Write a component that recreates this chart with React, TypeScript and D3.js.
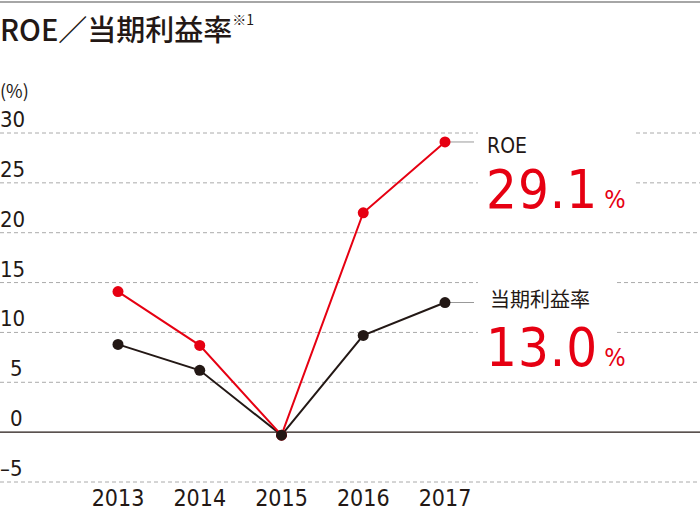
import React from 'react';
import * as d3 from 'd3';

const years = ['2013', '2014', '2015', '2016', '2017'];
const roe = [14.1, 8.7, -0.3, 22.0, 29.1];
const margin = [8.8, 6.2, -0.3, 9.7, 13.0];
const yTicks = [-5, 0, 5, 10, 15, 20, 25, 30];

const width = 700;
const height = 516;
const red = '#e60012';
const dark = '#231815';
const numFont = '"Liberation Sans Narrow", "DejaVu Sans Condensed", Roboto, sans-serif';
const jpFont = '"Noto Sans CJK JP", sans-serif';

const x = d3.scalePoint<string>().domain(years).range([118, 445]);
const y = d3.scaleLinear().domain([-5, 30]).range([482, 133]);

const lineGen = d3
  .line<number>()
  .x((d, i) => x(years[i]) as number)
  .y(d => y(d));

// gaps in grid lines where the callouts sit
const gapFor = (t: number): [number, number] | null => {
  if (t === 30 || t === 25) return [478, 636];
  if (t === 15 || t === 10) return [478, 617];
  return null;
};

const App = () => {
  const last = years.length - 1;
  return (
    <svg width={width} height={height} style={{ position: 'absolute', left: 0, top: 0 }}>
      <rect width={width} height={height} fill="#fff" />
      <line x1={0} x2={width} y1={2} y2={2} stroke="#888" strokeWidth={1.5} />
      <text x={0} y={41} fontFamily={jpFont} fontWeight={500} fontSize={29} fill={dark}>
        ROE／当期利益率
        <tspan fontSize={14} fontWeight={400} dy={-16}>※1</tspan>
      </text>

      <text x={0} y={98} fontFamily={jpFont} fontSize={18} fill={dark}>(%)</text>

      {yTicks.map(t => {
        const gap = gapFor(t);
        const yy = y(t);
        return (
          <g key={t}>
            {t === 0 ? (
              <line x1={0} x2={width} y1={yy} y2={yy} stroke={dark} strokeWidth={1.2} />
            ) : gap ? (
              <>
                <line x1={0} x2={gap[0]} y1={yy} y2={yy} stroke="#aaa" strokeDasharray="4,3" />
                <line x1={gap[1]} x2={width} y1={yy} y2={yy} stroke="#aaa" strokeDasharray="4,3" />
              </>
            ) : (
              <line x1={0} x2={width} y1={yy} y2={yy} stroke="#aaa" strokeDasharray="4,3" />
            )}
            <text x={t < 10 && t >= 0 ? 10 : 0} y={yy - 6} fontFamily={numFont} fontSize={22} fill={dark}>
              {t < 0 ? `–${Math.abs(t)}` : t}
            </text>
          </g>
        );
      })}

      {years.map(yr => (
        <text key={yr} x={x(yr)} y={506} textAnchor="middle" fontFamily={numFont} fontSize={23} fill={dark}>
          {yr}
        </text>
      ))}

      <line x1={x(years[last])} x2={474} y1={y(roe[last])} y2={y(roe[last])} stroke="#999" />
      <line x1={x(years[last])} x2={474} y1={y(margin[last])} y2={y(margin[last])} stroke="#999" />

      <path d={lineGen(margin) || ''} fill="none" stroke={dark} strokeWidth={2} />
      <path d={lineGen(roe) || ''} fill="none" stroke={red} strokeWidth={2} />
      {roe.map((v, i) => (
        <circle key={'r' + i} cx={x(years[i])} cy={y(v)} r={5.5} fill={red} />
      ))}
      {margin.map((v, i) => (
        <circle key={'m' + i} cx={x(years[i])} cy={y(v)} r={5.5} fill={dark} />
      ))}

      <text x={487} y={153} fontFamily={numFont} fontSize={21} fill={dark}>ROE</text>
      <text x={486} y={208} fontFamily={numFont} fontSize={54} letterSpacing={1} fill={red}>
        {roe[last].toFixed(1)}
        <tspan dx={6} fontSize={25} letterSpacing={0}>%</tspan>
      </text>

      <text x={490} y={307} fontFamily={jpFont} fontSize={20} fill={dark}>当期利益率</text>
      <text x={486} y={366} fontFamily={numFont} fontSize={54} letterSpacing={1} fill={red}>
        {margin[last].toFixed(1)}
        <tspan dx={6} fontSize={25} letterSpacing={0}>%</tspan>
      </text>
    </svg>
  );
};

export default App;
